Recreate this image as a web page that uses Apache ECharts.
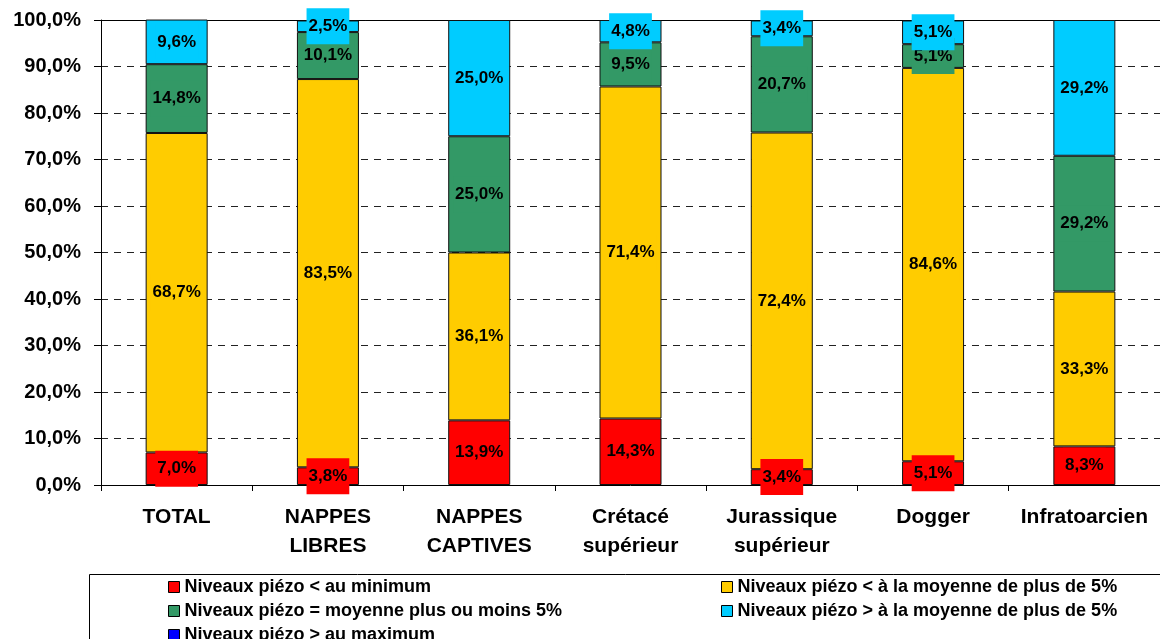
<!DOCTYPE html>
<html>
<head>
<meta charset="utf-8">
<script src="https://cdn.jsdelivr.net/npm/echarts@6/dist/echarts.min.js"></script>
<style>
    html, body { margin: 0; padding: 0; background: #fff; }
    #chart { width: 1160px; height: 639px; }
</style>
</head>
<body>
<div id="chart"></div>
<script>
// categories (x axis)
const categories = ['TOTAL', 'NAPPES\nLIBRES', 'NAPPES\nCAPTIVES', 'Crétacé\nsupérieur',
    'Jurassique\nsupérieur', 'Dogger', 'Infratoarcien'];

// series names
const seriesNames = [
    'Niveaux piézo < au minimum',
    'Niveaux piézo < à la moyenne de plus de 5%',
    'Niveaux piézo = moyenne plus ou moins 5%',
    'Niveaux piézo > à la moyenne de plus de 5%',
    'Niveaux piézo > au maximum'
];

// values in %
const belowMin = [7.0, 3.8, 13.9, 14.3, 3.4, 5.1, 8.3];
const belowAvg = [68.7, 83.5, 36.1, 71.4, 72.4, 84.6, 33.3];
const aroundAvg = [14.8, 10.1, 25.0, 9.5, 20.7, 5.1, 29.2];
const aboveAvg = [9.6, 2.5, 25.0, 4.8, 3.4, 5.1, 29.2];
const aboveMax = [0, 0, 0, 0, 0, 0, 0];

const colors = ['#FF0000', '#FFCC00', '#339966', '#00CCFF', '#0000FF'];
const font = '"Liberation Sans", Arial, sans-serif';

const fmt = (v) => v.toFixed(1).replace('.', ',') + '%';

const makeSeries = (name, data, color) => ({
    name: name,
    type: 'bar',
    stack: 'total',
    barWidth: 62,
    // no label (and no box) for empty segments
    data: data.map(v => v ? v : { value: v, label: { show: false }, itemStyle: { borderWidth: 0 } }),
    itemStyle: {
        color: color,
        borderColor: '#111',
        borderWidth: 1
    },
    label: {
        show: true,
        position: 'inside',
        formatter: (p) => fmt(p.value),
        color: '#000',
        fontFamily: font,
        fontWeight: 'bold',
        fontSize: 17,
        lineHeight: 18,
        backgroundColor: color,
        padding: [9, 2]
    },
    emphasis: { disabled: true }
});

const legendBase = {
    orient: 'vertical',
    top: 578,
    height: 100,
    padding: 0,
    icon: 'rect',
    itemWidth: 11,
    itemHeight: 11,
    itemGap: 6,
    itemStyle: { borderColor: '#000', borderWidth: 1 },
    textStyle: { color: '#000', fontFamily: font, fontWeight: 'bold', fontSize: 18, lineHeight: 15 },
    selectedMode: false
};

let mychart = echarts.init(document.getElementById('chart'));

let option = {
    animation: false,
    textStyle: { fontFamily: font },
    grid: { left: 101, top: 20, width: 1067, height: 465, containLabel: false },
    legend: [
        Object.assign({}, legendBase, {
            data: [seriesNames[0], seriesNames[2], seriesNames[4]],
            left: 168
        }),
        Object.assign({}, legendBase, {
            data: [seriesNames[1], seriesNames[3]],
            left: 721
        })
    ],
    graphic: [
        {
            type: 'rect',
            left: 87,
            top: 572,
            shape: { width: 1100, height: 100 },
            style: { fill: 'none', stroke: '#000', lineWidth: 1 },
            silent: true
        }
    ],
    xAxis: [
        {
            type: 'category',
            data: categories,
            axisLine: { lineStyle: { color: '#000', width: 1 } },
            axisTick: { show: true, length: 6, lineStyle: { color: '#000' } },
            axisLabel: {
                color: '#000',
                fontFamily: font,
                fontWeight: 'bold',
                fontSize: 21,
                lineHeight: 29,
                margin: 18,
                interval: 0
            }
        },
        {
            type: 'category',
            data: categories,
            position: 'top',
            axisLine: { show: true, lineStyle: { color: '#000', width: 1 } },
            axisTick: { show: false },
            axisLabel: { show: false }
        }
    ],
    yAxis: {
        type: 'value',
        min: 0,
        max: 100,
        interval: 10,
        axisLine: { show: true, lineStyle: { color: '#000', width: 1 } },
        axisTick: { show: true, length: 7, lineStyle: { color: '#000' } },
        axisLabel: {
            formatter: (v) => fmt(v),
            color: '#000',
            fontFamily: font,
            fontWeight: 'bold',
            fontSize: 20,
            margin: 20
        },
        splitLine: {
            show: true,
            lineStyle: { color: '#222', type: [7, 6], width: 1 }
        }
    },
    series: [
        makeSeries(seriesNames[0], belowMin, colors[0]),
        makeSeries(seriesNames[1], belowAvg, colors[1]),
        makeSeries(seriesNames[2], aroundAvg, colors[2]),
        makeSeries(seriesNames[3], aboveAvg, colors[3]),
        makeSeries(seriesNames[4], aboveMax, colors[4])
    ]
};

mychart.setOption(option);
</script>
</body>
</html>
